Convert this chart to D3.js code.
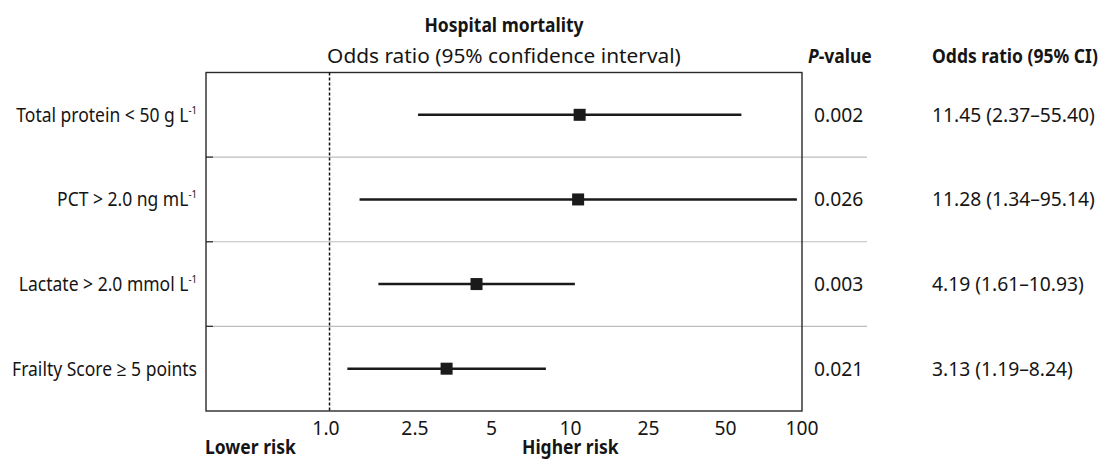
<!DOCTYPE html>
<html>
<head>
<meta charset="utf-8">
<script src="https://cdn.jsdelivr.net/npm/d3@7/dist/d3.min.js"></script>
<style>
  html, body { margin: 0; padding: 0; background: #fff; }
  svg text { font-family: "Noto Sans", "Open Sans", "Liberation Sans", sans-serif; fill: #151515; }
</style>
</head>
<body>
<svg id="chart" width="1102" height="459"></svg>
<script>
// ---- data ----
const labelMain = ["Total protein < 50 g L", "PCT > 2.0 ng mL", "Lactate > 2.0 mmol L", "Frailty Score \u2265 5 points"];
const labelSup  = ["-1", "-1", "-1", ""];
const oddsRatio = [11.45, 11.28, 4.19, 3.13];
const ciLow     = [2.37, 1.34, 1.61, 1.19];
const ciHigh    = [55.40, 95.14, 10.93, 8.24];
const pValues   = ["0.002", "0.026", "0.003", "0.021"];
const orText    = ["11.45 (2.37\u201355.40)", "11.28 (1.34\u201395.14)", "4.19 (1.61\u201310.93)", "3.13 (1.19\u20138.24)"];
const tickLabels = ["1.0", "2.5", "5", "10", "25", "50", "100"];
const tickAt     = [0.966, 2.30, 4.85, 10.47, 22.4, 47.5, 100]; // where the labels sit on the log axis
const refValue = 1;

// ---- layout ----
const svg = d3.select("#chart");
const plot = { left: 206, right: 802, top: 72.5, bottom: 411 };
const FS = 20;

const x = d3.scaleLog().domain([0.3, 100]).range([plot.left, plot.right]);
const y = d3.scaleBand().domain(d3.range(labelMain.length)).range([plot.top, plot.bottom]);
const yc = i => y(i) + y.bandwidth() / 2;

// row separators (gray), extending under the P-value column
const seps = d3.range(1, labelMain.length);
svg.append("g").selectAll("line").data(seps).join("line")
  .attr("x1", plot.left).attr("x2", 867)
  .attr("y1", d => y(d)).attr("y2", d => y(d))
  .attr("stroke", "#bdbdbd").attr("stroke-width", 1.2);
svg.append("g").selectAll("line").data(seps).join("line")
  .attr("x1", plot.left).attr("x2", plot.left + 7)
  .attr("y1", d => y(d)).attr("y2", d => y(d))
  .attr("stroke", "#333").attr("stroke-width", 1.3);

// box
svg.append("rect")
  .attr("x", plot.left).attr("y", plot.top)
  .attr("width", plot.right - plot.left).attr("height", plot.bottom - plot.top)
  .attr("fill", "none").attr("stroke", "#2a2a2a").attr("stroke-width", 1.4);

// reference line
svg.append("line")
  .attr("x1", x(refValue)).attr("x2", x(refValue))
  .attr("y1", plot.top).attr("y2", plot.bottom)
  .attr("stroke", "#111").attr("stroke-width", 1.5).attr("stroke-dasharray", "3,2");

// CIs
const rows = d3.range(labelMain.length);
svg.append("g").selectAll("line").data(rows).join("line")
  .attr("x1", i => x(ciLow[i])).attr("x2", i => x(ciHigh[i]))
  .attr("y1", yc).attr("y2", yc)
  .attr("stroke", "#1a1a1a").attr("stroke-width", 2.6);
const ms = 12;
svg.append("g").selectAll("rect").data(rows).join("rect")
  .attr("x", i => x(oddsRatio[i]) - ms / 2).attr("y", i => yc(i) - ms / 2)
  .attr("width", ms).attr("height", ms).attr("fill", "#1a1a1a");

// ---- texts ----
const T = svg.append("g");
const lab = T.append("g").selectAll("text").data(rows).join("text")
  .attr("class", "lbl")
  .attr("x", 197).attr("y", i => yc(i) + 7)
  .attr("text-anchor", "end").attr("font-size", FS);
lab.append("tspan").text(i => labelMain[i]);
lab.append("tspan").attr("font-size", 11).attr("dy", -8).text(i => labelSup[i]);

T.append("g").selectAll("text").data(rows).join("text")
  .attr("class", "num")
  .attr("x", 814).attr("y", i => yc(i) + 7).attr("font-size", FS).text(i => pValues[i]);
T.append("g").selectAll("text").data(rows).join("text")
  .attr("class", "num")
  .attr("x", 932).attr("y", i => yc(i) + 7).attr("font-size", FS).text(i => orText[i]);

T.append("g").selectAll("text").data(tickLabels).join("text")
  .attr("class", "num")
  .attr("x", (d, i) => x(tickAt[i])).attr("y", 435)
  .attr("text-anchor", "middle").attr("font-size", FS).text(d => d);

const cx = (plot.left + plot.right) / 2;
T.append("text").attr("x", cx).attr("y", 32).attr("text-anchor", "middle")
  .attr("font-size", FS).attr("font-weight", "bold").text("Hospital mortality");
T.append("text").attr("class", "wide").attr("x", cx).attr("y", 63).attr("text-anchor", "middle")
  .attr("font-size", FS).text("Odds ratio (95% confidence interval)");
const pv = T.append("text").attr("x", 808).attr("y", 63)
  .attr("font-size", FS).attr("font-weight", "bold");
pv.append("tspan").attr("font-style", "italic").text("P");
pv.append("tspan").text("-value");
T.append("text").attr("x", 932).attr("y", 63)
  .attr("font-size", FS).attr("font-weight", "bold").text("Odds ratio (95% CI)");
T.append("text").attr("x", 205).attr("y", 454)
  .attr("font-size", FS).attr("font-weight", "bold").text("Lower risk");
T.append("text").attr("x", 522).attr("y", 454)
  .attr("font-size", FS).attr("font-weight", "bold").text("Higher risk");

// condense the glyphs horizontally to mimic a condensed face
function measure(str, bold) {
  const t = svg.append("text").attr("font-size", FS).attr("font-weight", bold ? "bold" : null).text(str);
  const w = t.node().getComputedTextLength(); t.remove(); return w;
}
const sxLbl  = 185 / measure("Frailty Score \u2265 5 points", false);
const sxNum  = 163 / measure("11.45 (2.37\u201355.40)", false);
const sxWide = 354 / measure("Odds ratio (95% confidence interval)", false);
const sxBold = 166 / measure("Odds ratio (95% CI)", true);
T.selectAll("text").each(function() {
  const el = d3.select(this);
  const ax = +el.attr("x");
  const s = el.classed("wide") ? sxWide : el.classed("lbl") ? sxLbl : el.classed("num") ? sxNum : sxBold;
  el.attr("transform", `translate(${ax},0) scale(${s},1) translate(${-ax},0)`);
});
</script>
</body>
</html>
